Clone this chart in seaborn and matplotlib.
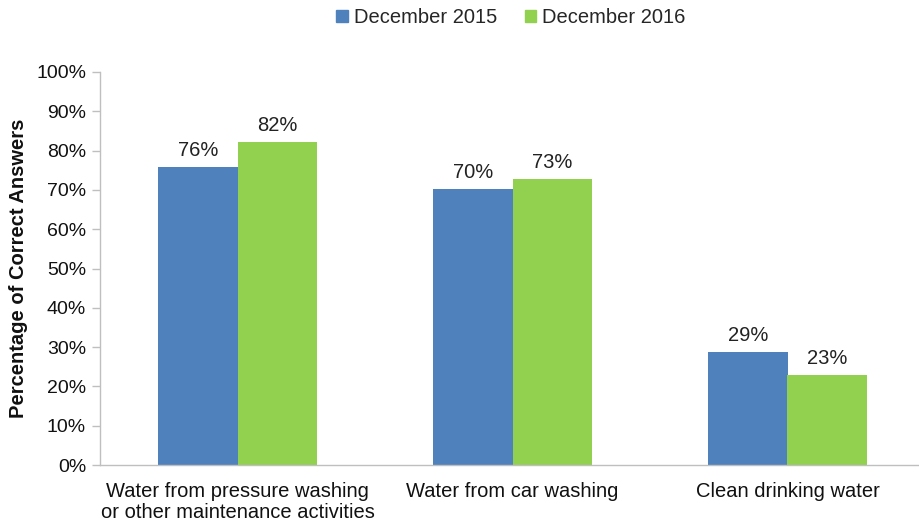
import matplotlib
matplotlib.use("Agg")
import matplotlib.pyplot as plt
import seaborn as sns
import pandas as pd
from matplotlib.ticker import PercentFormatter

# Données
categories = [
    "Water from pressure washing\nor other maintenance activities",
    "Water from car washing",
    "Clean drinking water",
]
periods = ["December 2015", "December 2016"]
values_2015 = [75.8, 70.2, 28.7]
values_2016 = [82.3, 72.8, 23.0]
labels_2015 = ["76%", "70%", "29%"]
labels_2016 = ["82%", "73%", "23%"]
colors = ["#4F81BD", "#92D050"]

df = pd.DataFrame(
    {
        "category": categories * 2,
        "period": [periods[0]] * 3 + [periods[1]] * 3,
        "value": values_2015 + values_2016,
    }
)

sns.set_theme(style="white")
plt.rcParams["font.family"] = ["Liberation Sans", "DejaVu Sans"]

fig = plt.figure(figsize=(9.19, 5.23), dpi=100)
ax = fig.add_axes([100 / 919, 58 / 523, 825 / 919, 393 / 523])

sns.barplot(
    data=df, x="category", y="value", hue="period",
    palette=colors, width=0.575, saturation=1, linewidth=0, ax=ax, legend=True,
)

# Étiquettes au-dessus des barres
for container, labels in zip(ax.containers, [labels_2015, labels_2016]):
    ax.bar_label(container, labels=labels, padding=5, fontsize=14.5, color="#222222")

ax.set_ylim(0, 100)
ax.set_xlim(-0.5, 2.5)
ax.set_yticks(range(0, 101, 10))
ax.yaxis.set_major_formatter(PercentFormatter(decimals=0))
ax.set_xticks([-0.5, 0.5, 1.5, 2.5], minor=False)
ax.set_xticklabels([])
ax.set_xticks([0, 1, 2], minor=True)
ax.set_xticklabels(categories, minor=True, fontsize=14.5, color="#111111",
                   linespacing=1.15)
ax.tick_params(axis="x", which="minor", length=0, pad=12)
ax.tick_params(axis="x", which="major", length=6, color="#BFBFBF", width=1)
ax.tick_params(axis="y", length=6, color="#BFBFBF", width=1, labelsize=14,
               labelcolor="#111111", left=True, pad=4)

ax.set_xlabel("")
ax.set_ylabel("Percentage of Correct Answers", fontsize=14.5, fontweight="bold",
              color="#111111", labelpad=6)

for side in ["top", "right"]:
    ax.spines[side].set_visible(False)
for side in ["left", "bottom"]:
    ax.spines[side].set_color("#BFBFBF")
    ax.spines[side].set_linewidth(1)

ax.legend_.remove()
handles = [plt.Rectangle((0, 0), 1, 1, color=c) for c in colors]
fig.legend(
    handles, periods, loc="center", bbox_to_anchor=(0.556, 0.966), ncol=2,
    frameon=False, fontsize=14.5, handlelength=0.55, handleheight=0.55,
    handletextpad=0.3, columnspacing=1.4,
)

fig.savefig("out.png", dpi=100)
